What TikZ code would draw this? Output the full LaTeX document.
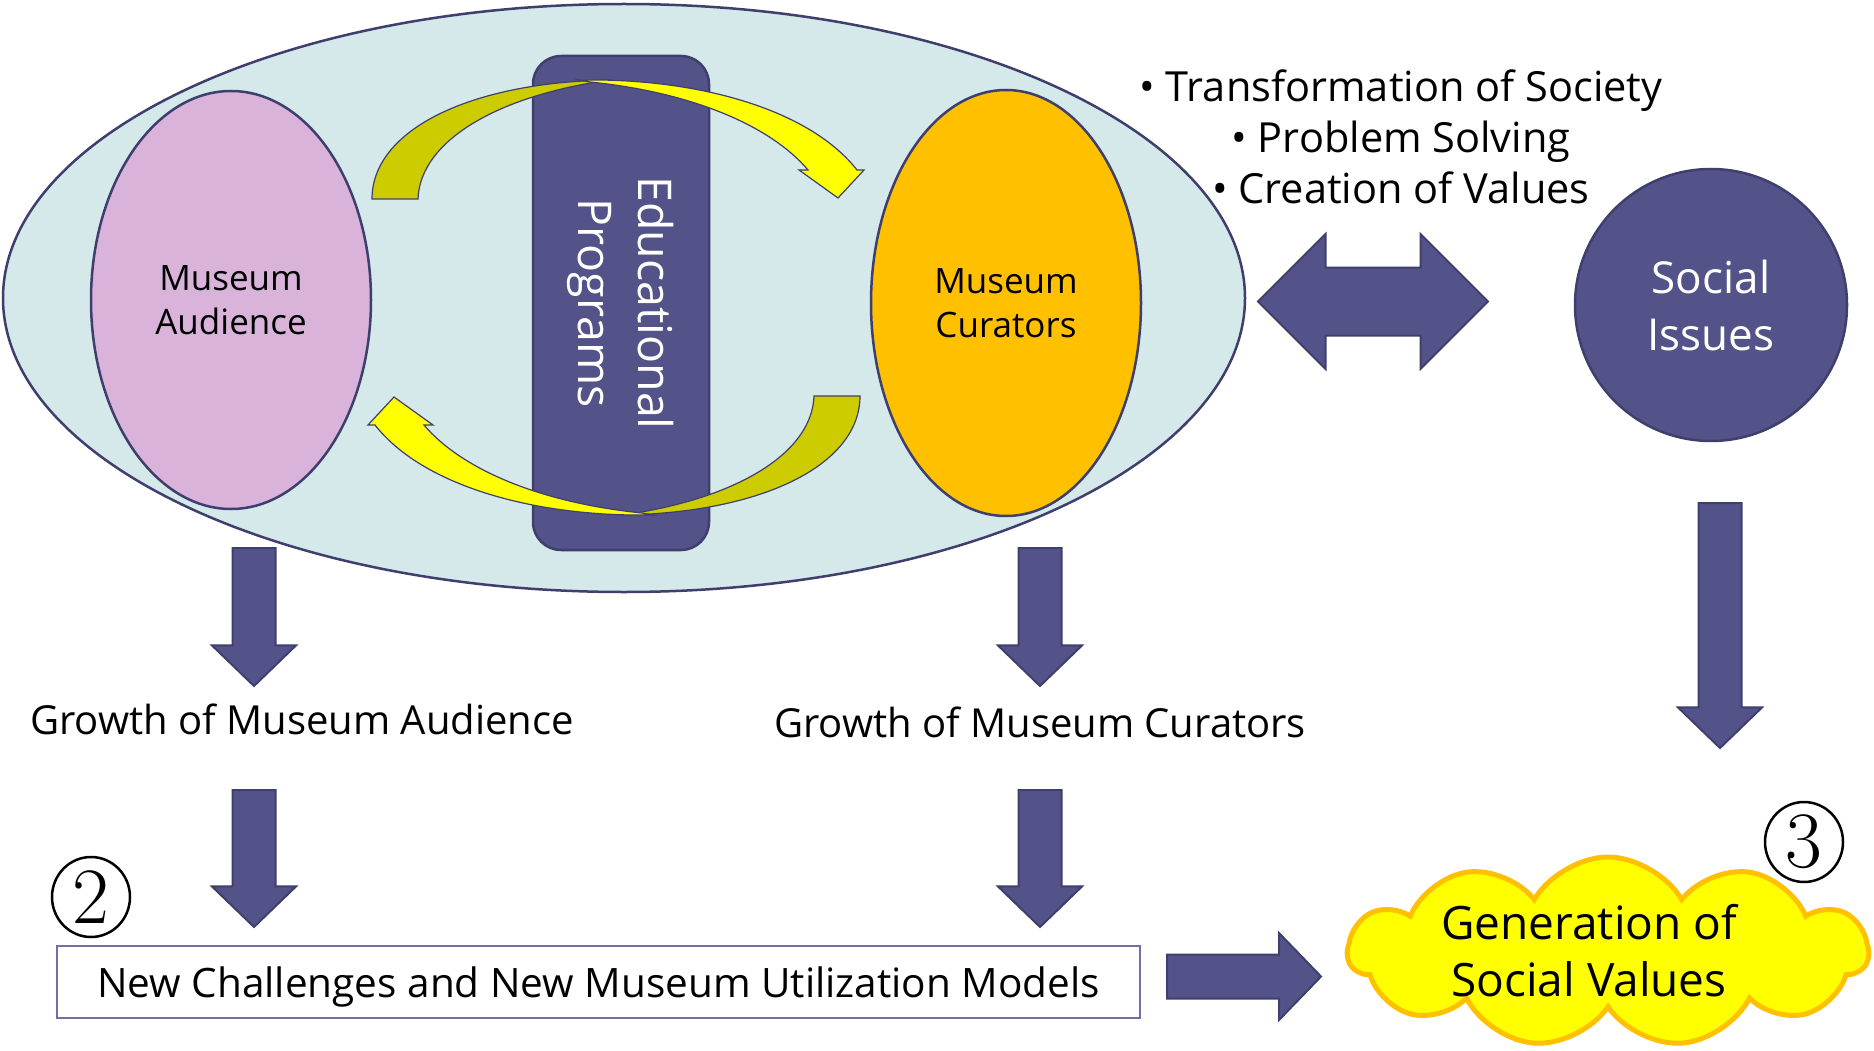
\documentclass[tikz,border=0pt]{standalone}
\usepackage{fontspec}
\usetikzlibrary{shapes.geometric,shapes.arrows,shapes.symbols}
\newfontfamily\uisans{Open Sans}
\definecolor{lakefill}{HTML}{D5E8EA}
\definecolor{navy}{HTML}{535389}
\definecolor{navyedge}{HTML}{3F3F6E}
\definecolor{lilac}{HTML}{D9B3DA}
\definecolor{amber}{HTML}{FFC000}
\definecolor{olive}{HTML}{CCCC00}
\definecolor{lemon}{HTML}{FFFF00}
\definecolor{boxedge}{HTML}{7070A8}
\newcommand{\ptsz}[2]{\fontsize{#1}{#2}\selectfont}
\tikzset{
  oval/.style={ellipse, draw=navyedge, line width=2.5pt, inner sep=0pt},
  blockarrow/.style={single arrow, draw=navyedge, fill=navy, line width=2pt,
    inner xsep=0pt, inner ysep=20.5pt, single arrow head extend=20.5pt,
    single arrow tip angle=92, minimum width=82pt, anchor=tail},
  ribbon/.style={draw=navyedge, line width=1.2pt},
  label/.style={font=\uisans\ptsz{40}{51}, align=center, inner sep=0pt},
  numeral/.style={ellipse, draw, line width=2.5pt, inner sep=0pt,
    minimum width=78pt, minimum height=80pt, font=\ptsz{80}{80}}
}
\begin{document}
\begin{tikzpicture}[x=1pt,y=-1pt]
\useasboundingbox[fill=white] (0,0) rectangle (1874,1051);

% museum circle with its two actors and the programme bar
\node[oval, fill=lakefill, minimum width=1242pt, minimum height=588pt] (hub) at (624,298) {};
\node[oval, fill=lilac, minimum width=280pt, minimum height=418pt] (aud) at (231,300) {};
\node[font=\uisans\ptsz{35}{44}, align=center] (audtext) at (aud.center) {Museum\\Audience};
\node[oval, fill=amber, minimum width=270pt, minimum height=426pt] (cur) at (1006,303) {};
\node[font=\uisans\ptsz{35}{44}, align=center] (curtext) at (cur.center) {Museum\\Curators};
\node[rectangle, rounded corners=28pt, draw=navyedge, line width=2.5pt, fill=navy,
      minimum width=176pt, minimum height=494pt] (edu) at (621,303) {};
\node[rotate=-90, text=white, font=\uisans\ptsz{46.5}{60}, align=center] (edutext) at (edu.center) {Educational\\Programs};

% circulating yellow ribbons (upper pair, then the same pair turned half way round)
\newcommand{\ribbonpair}{%
  \fill[olive, ribbon] (372,199) .. controls (372,130) and (470,82) .. (610,80)
     .. controls (500,95) and (420,140) .. (418,199) -- cycle;
  \fill[lemon, ribbon] (580,80) .. controls (700,78) and (810,110) .. (857,170)
     -- (864,170) -- (838,198) -- (799,170) -- (808,170)
     .. controls (770,125) and (690,92) .. (590,82) -- cycle;
}
\ribbonpair
\begin{scope}[rotate around={180:(616,297.5)}]
\ribbonpair
\end{scope}

% social side
\node[label, font=\uisans\ptsz{41.5}{51}] (aims) at (1401,137) {• Transformation of Society\\• Problem Solving\\• Creation of Values};
\node[double arrow, draw=navyedge, fill=navy, line width=2pt, inner xsep=0pt, inner ysep=33pt,
      double arrow head extend=33.5pt, double arrow tip angle=90,
      minimum height=230pt, minimum width=133pt] (dbl) at (1373,301.5) {};
\node[circle, draw=navyedge, fill=navy, line width=2.5pt, minimum width=272pt] (soc) at (1711,305) {};
\node[text=white, font=\uisans\ptsz{44}{57}, align=center] (soctext) at (soc.center) {Social\\Issues};

% growth row
\node[label] (gaud) at (302,719) {Growth of Museum Audience};
\node[label] (gcur) at (1040,722) {Growth of Museum Curators};

\node[blockarrow, minimum height=138pt, rotate=-90] (a1) at (254,547) {};
\node[blockarrow, minimum height=137pt, rotate=-90] (a2) at (254,789) {};
\node[blockarrow, minimum height=138pt, rotate=-90] (a3) at (1040,547) {};
\node[blockarrow, minimum height=137pt, rotate=-90] (a4) at (1040,789) {};
\node[blockarrow, minimum height=245pt, rotate=-90] (a5) at (1720,502) {};

% outcome row
\node[draw=boxedge, line width=1.5pt, minimum width=1083pt, minimum height=72pt,
      inner sep=0pt] (challenge) at (598.5,982) {};
\node[font=\uisans\ptsz{40.5}{48}, inner sep=0pt, yshift=-5pt] (challengetext) at (challenge.center) {New Challenges and New Museum Utilization Models};
\node[blockarrow, minimum height=154pt, minimum width=85pt, inner ysep=21pt,
      single arrow head extend=21.5pt] (ar) at (1166,976.5) {};
\node[cloud, cloud puffs=11, cloud puff arc=120, aspect=2.7, draw=amber, fill=lemon,
      line width=5pt, minimum width=520pt, minimum height=190pt, inner sep=0pt] (gen) at (1608,952) {};
\node[label, font=\uisans\ptsz{46}{57}] (gentext) at (1589,951) {Generation of\\Social Values};

\node[numeral] (n2) at (91,897) {2};
\node[numeral] (n3) at (1804,842) {3};
\end{tikzpicture}
\end{document}
